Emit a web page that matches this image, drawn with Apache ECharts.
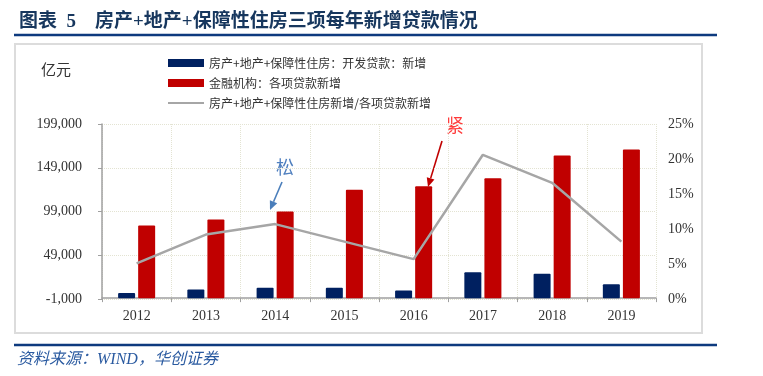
<!DOCTYPE html>
<html>
<head>
<meta charset="utf-8">
<script src="https://cdn.jsdelivr.net/npm/echarts@6/dist/echarts.min.js"></script>
<style>
  html, body { margin: 0; padding: 0; background: #fff; }
  #main { width: 763px; height: 376px; }
</style>
</head>
<body>
<div id="main"></div>
<script>
// 年份
const years = ['2012', '2013', '2014', '2015', '2016', '2017', '2018', '2019'];
// 房产+地产+保障性住房：开发贷款：新增（亿元）
const devLoans = [5800, 9900, 11900, 11900, 8800, 29700, 27800, 16000];
// 金融机构：各项贷款新增（亿元）
const totalLoans = [83000, 90000, 99000, 124000, 128000, 137000, 163000, 170000];
// 占比（%）
const shareRatio = [5.1, 9.2, 10.7, 8.2, 5.7, 20.6, 16.6, 8.2];

const serif = '"Liberation Serif", "Noto Sans CJK SC", serif';
const sans = '"Noto Sans CJK SC", sans-serif';
const navy = '#0d3a7e';

// 箭头
const arrow = (x1, y1, x2, y2, color) => {
  const a = Math.atan2(y2 - y1, x2 - x1);
  const L = 9, W = 4;
  const bx = x2 - L * Math.cos(a), by = y2 - L * Math.sin(a);
  return [
    { type: 'line', shape: { x1: x1, y1: y1, x2: bx, y2: by }, style: { stroke: color, lineWidth: 1.6 } },
    {
      type: 'polygon',
      shape: { points: [[x2, y2], [bx + W * Math.sin(a), by - W * Math.cos(a)], [bx - W * Math.sin(a), by + W * Math.cos(a)]] },
      style: { fill: color }
    }
  ];
};

const myChart = echarts.init(document.getElementById('main'));
myChart.setOption({
  animation: false,
  title: {
    text: '图表  5    房产+地产+保障性住房三项每年新增贷款情况',
    left: 14,
    top: 8,
    textStyle: { fontFamily: serif, fontSize: 19, fontWeight: 'bold', color: '#17375e' }
  },
  graphic: [
    { type: 'line', shape: { x1: 14, y1: 35, x2: 717, y2: 35 }, style: { stroke: navy, lineWidth: 2.5 } },
    { type: 'rect', shape: { x: 15, y: 44, width: 687, height: 289 }, style: { fill: 'none', stroke: '#dcdcdc', lineWidth: 2 } },
    { type: 'line', shape: { x1: 14, y1: 345, x2: 717, y2: 345 }, style: { stroke: navy, lineWidth: 2.5 } },
    {
      type: 'text', left: 17, top: 352,
      style: { text: '资料来源：WIND，华创证券', font: 'italic 16px ' + serif, fill: '#2a5aa0' }
    },
    {
      type: 'text', left: 41, top: 64,
      style: { text: '亿元', font: '15px ' + serif, fill: '#333' }
    },
    {
      type: 'text', left: 276, top: 160,
      style: { text: '松', font: '18px ' + serif, fill: '#4f7fbf' }
    },
    {
      type: 'text', left: 446, top: 118,
      style: { text: '紧', font: '18px ' + serif, fill: '#ff3b3b' }
    }
  ].concat(arrow(282, 182, 270, 210, '#4a7ebb')).concat(arrow(442, 141, 428, 187, '#c00000')),
  legend: {
    orient: 'vertical',
    left: 162,
    top: 52,
    itemWidth: 36,
    itemHeight: 8,
    itemGap: 8,
    textStyle: { fontFamily: sans, fontSize: 12, color: '#333' },
    data: [
      { name: '房产+地产+保障性住房：开发贷款：新增', icon: 'rect' },
      { name: '金融机构：各项贷款新增', icon: 'rect' },
      { name: '房产+地产+保障性住房新增/各项贷款新增', itemStyle: { opacity: 0 } }
    ]
  },
  grid: { left: 102, right: 107, top: 124, bottom: 77 },
  xAxis: {
    type: 'category',
    data: years,
    axisLine: { lineStyle: { color: '#a0a0a0', width: 1.5 } },
    axisTick: { show: true, length: 4, lineStyle: { color: '#a0a0a0' } },
    axisLabel: { margin: 10, fontFamily: serif, fontSize: 14, color: '#333' },
    splitLine: { show: true, lineStyle: { color: '#e3e3d2', type: 'dotted' } }
  },
  yAxis: [
    {
      type: 'value',
      min: -1000,
      max: 199000,
      interval: 50000,
      axisLine: { show: true, lineStyle: { color: '#a0a0a0', width: 1.5 } },
      axisTick: { show: true, length: 4, lineStyle: { color: '#a0a0a0' } },
      axisLabel: {
        margin: 20, fontFamily: serif, fontSize: 14, color: '#333',
        formatter: (v) => v.toLocaleString('en-US')
      },
      splitLine: { lineStyle: { color: '#e3e3d2', type: 'dotted' } }
    },
    {
      type: 'value',
      min: 0,
      max: 25,
      interval: 5,
      axisLine: { show: false },
      axisTick: { show: false },
      axisLabel: { margin: 12, fontFamily: serif, fontSize: 14, color: '#333', formatter: '{value}%' },
      splitLine: { show: false }
    }
  ],
  series: [
    {
      name: '房产+地产+保障性住房：开发贷款：新增',
      type: 'bar',
      data: devLoans,
      barWidth: 17,
      barGap: '18%',
      itemStyle: { color: '#002060', borderRadius: 1 }
    },
    {
      name: '金融机构：各项贷款新增',
      type: 'bar',
      data: totalLoans,
      barWidth: 17,
      itemStyle: { color: '#c00000', borderRadius: 1 }
    },
    {
      name: '房产+地产+保障性住房新增/各项贷款新增',
      type: 'line',
      yAxisIndex: 1,
      data: shareRatio,
      symbol: 'none',
      lineStyle: { color: '#a6a6a6', width: 2.5 },
      itemStyle: { color: '#a6a6a6' },
      z: 3
    }
  ]
});
</script>
</body>
</html>
